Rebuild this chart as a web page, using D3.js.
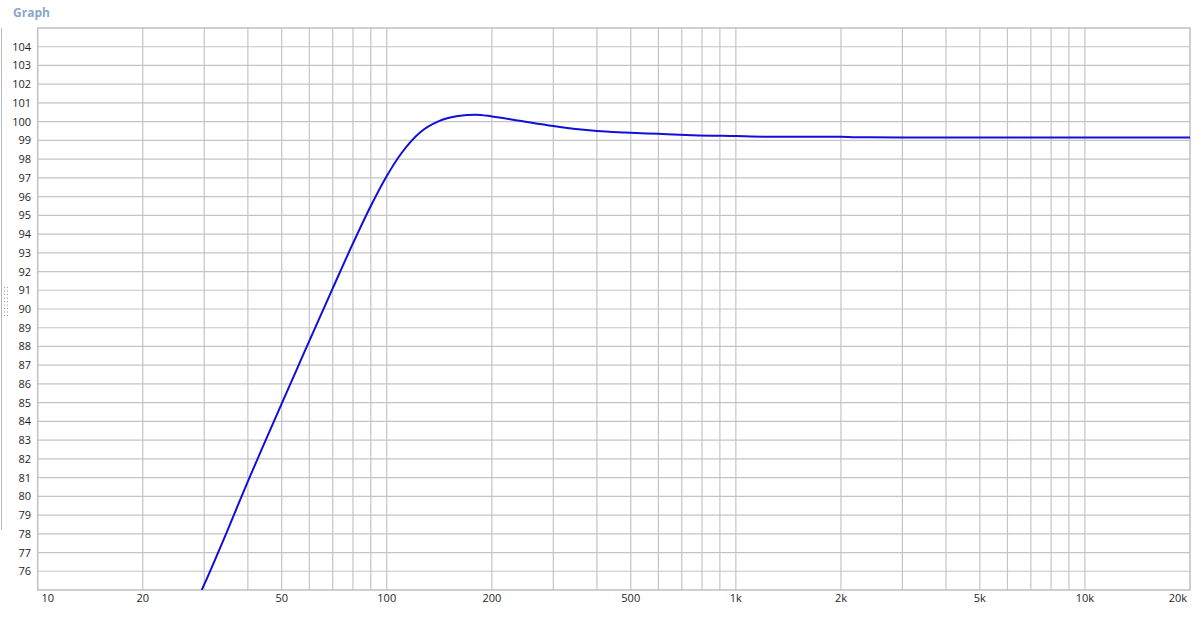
<!DOCTYPE html>
<html lang="en">
<head>
<meta charset="UTF-8">
<title>Graph</title>
<script src="https://d3js.org/d3.v7.min.js"></script>
<style>
    body { margin: 0; background: #fff; }
    svg { display: block; font-family: "Open Sans", "Noto Sans", sans-serif; }
    .tick-label { font-size: 11px; fill: #1e1e1e; }
    .title { font-size: 12px; font-weight: bold; fill: #8aa7c9; }
</style>
</head>
<body>
<svg id="chart" width="1195" height="625"></svg>
<script>
// frequency response (Hz, dB)
let freqs = [29.5, 30, 35, 40, 45, 50, 55, 60, 70, 80, 90, 100, 110, 125, 140, 160, 180, 200,
    240, 300, 360, 400, 480, 600, 750, 1000, 1200, 2000, 2200, 3000, 5000, 10000, 20000]
let levels = [75.0, 75.3, 78.2, 80.8, 83.0, 84.95, 86.7, 88.3, 91.1, 93.5, 95.5, 97.1, 98.3, 99.45,
    100.0, 100.3, 100.37, 100.28, 100.05, 99.77, 99.58, 99.5, 99.42, 99.35, 99.28, 99.23, 99.2,
    99.2, 99.17, 99.16, 99.16, 99.15, 99.15]

let xTicks = [10, 20, 50, 100, 200, 500, 1000, 2000, 5000, 10000, 20000]
let xTickLabels = ["10", "20", "50", "100", "200", "500", "1k", "2k", "5k", "10k", "20k"]
let yTicks = d3.range(76, 105)

let svg = d3.select("#chart")
let plotLeft = 37.7, plotRight = 1190, plotTop = 28, plotBottom = 590

let x = d3.scaleLog().domain([10, 20000]).range([plotLeft, plotRight])
let y = d3.scaleLinear().domain([75, 105]).range([plotBottom, plotTop])

// title and left splitter
svg.append("text").attr("class", "title").attr("x", 13).attr("y", 17).text("Graph")
svg.append("line").attr("x1", 1.5).attr("x2", 1.5).attr("y1", 28).attr("y2", 530)
    .attr("stroke", "#b9b9b9").attr("stroke-width", 1)
for (let i = 0; i < 9; i++) {
    for (let c = 0; c < 2; c++) {
        svg.append("rect").attr("x", 4 + c * 3).attr("y", 287 + i * 3.5)
            .attr("width", 1).attr("height", 1).attr("fill", "#9a9a9a")
    }
}

// vertical grid: every 1..9 multiple per decade
let gridFreqs = []
for (let dec = 10; dec <= 10000; dec *= 10) {
    for (let m = 1; m <= 9; m++) {
        let f = m * dec
        if (f > 10 && f < 20000) gridFreqs.push(f)
    }
}
let grid = svg.append("g")
grid.selectAll(".vg").data(gridFreqs).enter().append("line")
    .attr("x1", d => x(d)).attr("x2", d => x(d))
    .attr("y1", plotTop).attr("y2", plotBottom)
    .attr("stroke", "#c4c4c4").attr("stroke-width", 1.2)
grid.selectAll(".hg").data(yTicks).enter().append("line")
    .attr("x1", plotLeft).attr("x2", plotRight)
    .attr("y1", d => y(d)).attr("y2", d => y(d))
    .attr("stroke", "#c4c4c4").attr("stroke-width", 1.2)

// plot border
svg.append("rect").attr("x", plotLeft).attr("y", plotTop)
    .attr("width", plotRight - plotLeft).attr("height", plotBottom - plotTop)
    .attr("fill", "none").attr("stroke", "#c4c4c4").attr("stroke-width", 1.6)

// y labels
svg.append("g").selectAll("text").data(yTicks).enter().append("text")
    .attr("class", "tick-label")
    .attr("x", 31).attr("y", d => y(d) + 4)
    .attr("text-anchor", "end")
    .text(d => d)

// x labels (end labels nudged inside like the original)
svg.append("g").selectAll("text").data(xTicks).enter().append("text")
    .attr("class", "tick-label")
    .attr("x", (d, i) => i === 0 ? x(d) + 10 : (i === xTicks.length - 1 ? x(d) - 3 : x(d)))
    .attr("y", 602)
    .attr("text-anchor", (d, i) => i === xTicks.length - 1 ? "end" : "middle")
    .text((d, i) => xTickLabels[i])

// response curve
svg.append("clipPath").attr("id", "plotclip").append("rect")
    .attr("x", plotLeft).attr("y", plotTop).attr("width", plotRight - plotLeft).attr("height", plotBottom - plotTop)
let line = d3.line()
    .x((d, i) => x(freqs[i]))
    .y(d => y(d))
    .curve(d3.curveMonotoneX)
svg.append("path")
    .datum(levels)
    .attr("clip-path", "url(#plotclip)")
    .attr("d", line)
    .attr("fill", "none")
    .attr("stroke", "#1010d8")
    .attr("stroke-width", 2)
</script>
</body>
</html>
